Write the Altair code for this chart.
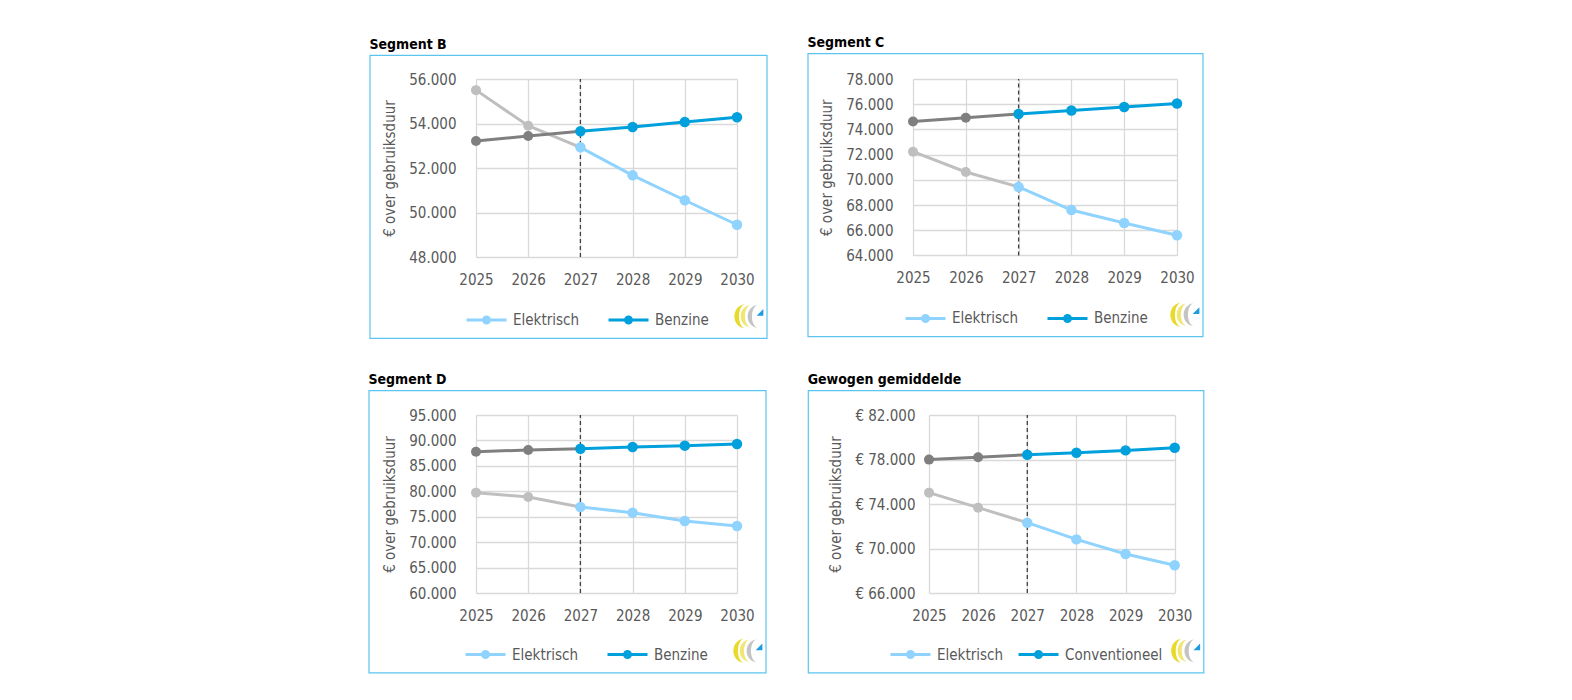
import altair as alt
import pandas as pd

years = [2025, 2026, 2027, 2028, 2029, 2030]

# Segment B
b_elek = [55500, 53900, 52930, 51670, 50550, 49450]
b_benz = [53210, 53440, 53650, 53840, 54070, 54280]
# Segment C
c_elek = [72230, 70620, 69430, 67600, 66570, 65600]
c_benz = [74620, 74930, 75220, 75500, 75780, 76060]
# Segment D
d_elek = [79730, 78880, 76910, 75800, 74160, 73180]
d_benz = [87790, 88120, 88380, 88710, 88970, 89300]
# Gewogen gemiddelde
g_elek = [75020, 73670, 72320, 70820, 69510, 68490]
g_conv = [77990, 78200, 78430, 78610, 78820, 79060]

FONT = "DejaVu Sans Condensed, DejaVu Sans"
TXT = "#595959"
LIGHT = "#8FD3FE"
BLUE = "#00A0DC"
GRAY_L = "#BFBFBF"
GRAY_D = "#7F7F7F"
BOX = "#5BC5F0"

LEG_PATH = ("M-1,0L1,0 "
            "M0.15,0A0.15,0.15 0 1,1 -0.15,0A0.15,0.15 0 1,1 0.15,0 "
            "M0.08,0A0.08,0.08 0 1,1 -0.08,0A0.08,0.08 0 1,1 0.08,0 "
            "M0.02,0A0.02,0.02 0 1,1 -0.02,0A0.02,0.02 0 1,1 0.02,0")
CRESCENT = "M0.45,-1 C-0.65,-0.8 -0.65,0.8 0.45,1 C-0.15,0.7 -0.15,-0.7 0.45,-1 Z"
TRIANGLE = "M-1,1 L1,1 L1,-1 Z"


def panel(title, elek, conv, conv_name, dom, step, prefix, pw, ph, box, leg_x, lab_pad, col_pad):
    df = pd.DataFrame({
        "year": years * 2,
        "series": ["Elektrisch"] * 6 + [conv_name] * 6,
        "value": elek + conv,
    })
    if prefix:
        lab = "'€ ' + replace(format(datum.value, ',.0f'), ',', '.')"
    else:
        lab = "replace(format(datum.value, ',.0f'), ',', '.')"
    yvals = list(range(dom[0], dom[1] + 1, step))
    x = alt.X("year:Q",
              scale=alt.Scale(domain=[2025, 2030], nice=False, zero=False),
              axis=alt.Axis(values=years, tickCount=len(years), format="d", title=None,
                            labelPadding=15, labelFlush=False, labelOverlap=False))
    y = alt.Y("value:Q",
              scale=alt.Scale(domain=dom, nice=False, zero=False),
              axis=alt.Axis(values=yvals, tickCount=len(yvals), labelExpr=lab,
                            title="€ over gebruiksduur", labelPadding=lab_pad, titlePadding=11,
                            labelFlush=False, labelOverlap=False))
    base = alt.Chart(df).encode(x=x, y=y)
    cscale = alt.Scale(domain=["Elektrisch", conv_name], range=[LIGHT, BLUE])

    bx0, bx1, by0, by1 = box
    frame = alt.Chart(alt.Data(values=[{}])).mark_rect(
        filled=False, stroke=BOX, strokeWidth=1.2
    ).encode(x=alt.value(bx0), x2=alt.value(bx1), y=alt.value(by0), y2=alt.value(by1))

    rule_df = pd.DataFrame({"year": [2027], "lo": [dom[0]], "hi": [dom[1]]})
    rule = alt.Chart(rule_df).mark_rule(color="#404040", strokeDash=[4, 3], strokeWidth=1.3).encode(
        x="year:Q", y="lo:Q", y2="hi:Q")

    g_el = base.transform_filter("datum.series == 'Elektrisch' && datum.year <= 2027").mark_line(
        color=GRAY_L, strokeWidth=3)
    g_cv = base.transform_filter(f"datum.series == '{conv_name}' && datum.year <= 2027").mark_line(
        color=GRAY_D, strokeWidth=3)
    gp_el = base.transform_filter("datum.series == 'Elektrisch' && datum.year <= 2026").mark_circle(
        color=GRAY_L, size=100, opacity=1)
    gp_cv = base.transform_filter(f"datum.series == '{conv_name}' && datum.year <= 2026").mark_circle(
        color=GRAY_D, size=100, opacity=1)

    c_line = base.transform_filter("datum.year >= 2027").mark_line(strokeWidth=3).encode(
        color=alt.Color("series:N", scale=cscale, sort=["Elektrisch", conv_name],
                        legend=alt.Legend(title=None, orient="none", legendX=leg_x, legendY=by1 - 40,
                                          direction="horizontal", columns=2, symbolType=LEG_PATH,
                                          symbolSize=1600, symbolStrokeWidth=3, labelFontSize=15,
                                          labelColor=TXT, labelFont=FONT, labelOffset=5,
                                          columnPadding=col_pad, padding=0)))
    c_pts = base.transform_filter("datum.year >= 2027").mark_circle(size=110, opacity=1).encode(
        fill=alt.Fill("series:N", scale=cscale, legend=None))

    logo_d = alt.Data(values=[{}])
    ly = by1 - 22
    logo1 = alt.Chart(logo_d).mark_point(shape=CRESCENT, filled=True, size=600, fill="#E8DA2A",
                                         opacity=1, strokeWidth=0).encode(
        x=alt.value(bx1 - 28), y=alt.value(ly))
    logo2 = alt.Chart(logo_d).mark_point(shape=CRESCENT, filled=True, size=500, fill="#F0E670",
                                         opacity=1, strokeWidth=0).encode(
        x=alt.value(bx1 - 22), y=alt.value(ly))
    logo3 = alt.Chart(logo_d).mark_point(shape=CRESCENT, filled=True, size=520, fill="#C4C4C4",
                                         opacity=1, strokeWidth=0).encode(
        x=alt.value(bx1 - 15), y=alt.value(ly))
    logo4 = alt.Chart(logo_d).mark_point(shape=TRIANGLE, filled=True, size=45, fill="#1E9BE0",
                                         opacity=1, strokeWidth=0).encode(
        x=alt.value(bx1 - 7), y=alt.value(ly - 4))

    return alt.layer(frame, g_el, g_cv, rule, c_line, gp_el, gp_cv, c_pts,
                     logo1, logo2, logo3, logo4).properties(
        width=pw, height=ph,
        title=alt.TitleParams(title, anchor="start", frame="bounds", fontSize=14,
                              fontWeight="bold", color="#000000", font=FONT, offset=3))


pB = panel("Segment B", b_elek, b_benz, "Benzine", [48000, 56000], 2000, False,
           261, 178, (-106, 291, -23.7, 259.3), -11, 20, 23)
pC = panel("Segment C", c_elek, c_benz, "Benzine", [64000, 78000], 2000, False,
           264, 176.4, (-105, 290, -25.3, 257.7), -9, 20, 23)
pD = panel("Segment D", d_elek, d_benz, "Benzine", [60000, 95000], 5000, False,
           261, 178, (-107, 290, -24.4, 257.8), -12, 20, 23)
pG = panel("Gewogen gemiddelde", g_elek, g_conv, "Conventioneel", [66000, 82000], 4000, True,
           245.7, 178, (-120.7, 274.8, -24.4, 257.8), -40, 14, 9)


def indep(c):
    return c.resolve_scale(color="independent", fill="independent").resolve_legend(
        color="independent", fill="independent")


chart = indep(alt.vconcat(
    indep(alt.hconcat(pB, pC, spacing=37)),
    indep(alt.hconcat(pD, pG, spacing=39)),
    spacing=32,
)).properties(
    padding={"left": 359, "top": 27, "right": 10, "bottom": 10}
).configure_view(
    stroke="transparent"
).configure_axis(
    labelFont=FONT, labelFontSize=15, labelColor=TXT, titleFont=FONT, titleFontSize=15,
    titleColor=TXT, titleFontWeight="normal", gridColor="#D9D9D9", gridWidth=1.3,
    ticks=False, domain=False
)

chart.save("out.html", embed_options={"renderer": "svg", "actions": False})
